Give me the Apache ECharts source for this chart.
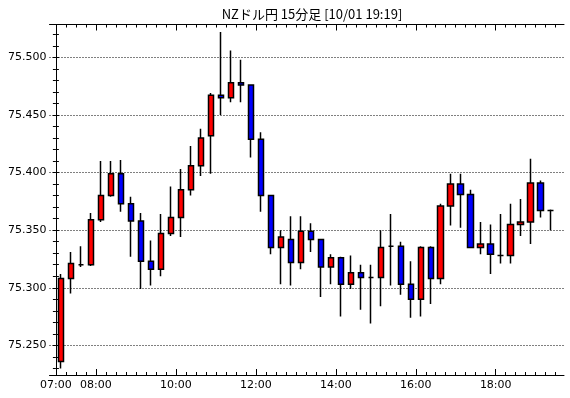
<!DOCTYPE html>
<html>
<head>
<meta charset="utf-8">
<script src="https://cdn.jsdelivr.net/npm/echarts@6/dist/echarts.min.js"></script>
<style>
  html, body { margin: 0; padding: 0; background: #fff; }
  #chart { width: 570px; height: 398px; }
</style>
</head>
<body>
<div id="chart"></div>
<script>
  // 15分足 07:00 - 19:15
  var openVals  = [75.236, 75.308, 75.320, 75.320, 75.359, 75.380, 75.399, 75.373, 75.358, 75.323,
                   75.316, 75.347, 75.361, 75.385, 75.406, 75.432, 75.467, 75.465, 75.478, 75.476,
                   75.429, 75.380, 75.335, 75.342, 75.322, 75.349, 75.342, 75.318, 75.326, 75.303,
                   75.313, 75.309, 75.309, 75.336, 75.336, 75.303, 75.290, 75.335, 75.308, 75.371,
                   75.390, 75.381, 75.335, 75.338, 75.328, 75.328, 75.355, 75.357, 75.391, 75.367];
  var closeVals = [75.308, 75.321, 75.320, 75.359, 75.380, 75.399, 75.373, 75.358, 75.323, 75.316,
                   75.347, 75.361, 75.385, 75.406, 75.430, 75.467, 75.465, 75.478, 75.476, 75.429,
                   75.380, 75.335, 75.344, 75.322, 75.349, 75.342, 75.318, 75.326, 75.303, 75.313,
                   75.309, 75.309, 75.335, 75.336, 75.303, 75.290, 75.335, 75.308, 75.371, 75.390,
                   75.381, 75.335, 75.338, 75.329, 75.328, 75.355, 75.357, 75.391, 75.367, 75.367];
  var lowVals   = [75.230, 75.295, 75.318, 75.319, 75.357, 75.379, 75.366, 75.327, 75.299, 75.302,
                   75.310, 75.345, 75.344, 75.380, 75.397, 75.399, 75.450, 75.461, 75.461, 75.413,
                   75.366, 75.329, 75.303, 75.302, 75.316, 75.331, 75.292, 75.303, 75.275, 75.299,
                   75.281, 75.269, 75.284, 75.302, 75.294, 75.274, 75.275, 75.286, 75.303, 75.354,
                   75.352, 75.335, 75.329, 75.312, 75.321, 75.321, 75.345, 75.338, 75.361, 75.350];
  var highVals  = [75.312, 75.331, 75.336, 75.365, 75.410, 75.410, 75.411, 75.379, 75.365, 75.341,
                   75.364, 75.388, 75.403, 75.423, 75.438, 75.469, 75.522, 75.506, 75.498, 75.476,
                   75.435, 75.380, 75.350, 75.362, 75.362, 75.356, 75.342, 75.329, 75.327, 75.328,
                   75.320, 75.320, 75.350, 75.364, 75.340, 75.323, 75.336, 75.336, 75.373, 75.399,
                   75.399, 75.385, 75.357, 75.355, 75.364, 75.373, 75.377, 75.412, 75.393, 75.368];

  // x軸: 1 = 15分 (0 = 07:00)
  var hourTickPos   = [0, 4, 12, 20, 28, 36, 44];
  var hourLabels    = ['07:00', '08:00', '10:00', '12:00', '14:00', '16:00', '18:00'];
  var longTickPos   = [4, 12, 20, 28, 36, 44];
  var yLabelValues  = [75.25, 75.30, 75.35, 75.40, 75.45, 75.50];

  var xMin = -0.64, xMax = 50.83;
  var yMin = 75.2243, yMax = 75.5285;

  var slotTicks = [];
  for (var s = 0; s <= 50; s++) slotTicks.push(s);
  var yMinorTicks = [];
  for (var t = 7523; t <= 7552; t++) yMinorTicks.push(t / 100);

  var candles = [];
  for (var i = 0; i < openVals.length; i++) {
    candles.push([i + 0.5, openVals[i], closeVals[i], lowVals[i], highVals[i]]);
  }

  var blackLine = { show: true, lineStyle: { color: '#000', width: 1 } };

  function xAxisDef(pos, ticks, len, withLabels) {
    return {
      type: 'value', position: pos, min: xMin, max: xMax,
      axisLine: withLabels !== null ? blackLine : { show: false },
      axisTick: { show: true, inside: true, length: len, customValues: ticks,
                  lineStyle: { color: '#000', width: 1 } },
      axisLabel: withLabels ? {
        show: true, customValues: hourTickPos, margin: 5,
        color: '#000', fontSize: 11, fontFamily: 'DejaVu Sans',
        formatter: function (v) {
          var k = hourTickPos.indexOf(Math.round(v));
          return k >= 0 ? hourLabels[k] : '';
        }
      } : { show: false },
      splitLine: { show: false }
    };
  }

  var chart = echarts.init(document.getElementById('chart'), null, { renderer: 'canvas' });
  chart.setOption({
    animation: false,
    backgroundColor: '#fff',
    title: {
      text: 'NZドル円 15分足 [10/01 19:19]',
      left: 307, top: 3, textAlign: 'center',
      textStyle: { color: '#000', fontSize: 13, fontWeight: 'normal', fontFamily: 'Noto Sans CJK JP' }
    },
    grid: { left: 49.5, right: 6, top: 24.5, bottom: 23 },
    xAxis: [
      xAxisDef('bottom', slotTicks, 3, true),
      xAxisDef('bottom', longTickPos, 6, null),
      xAxisDef('top', slotTicks, 3, false),
      xAxisDef('top', longTickPos, 6, null)
    ],
    yAxis: [
      {
        type: 'value', position: 'left', min: yMin, max: yMax,
        axisLine: blackLine,
        axisTick: { show: true, inside: true, length: 3, customValues: yLabelValues,
                    lineStyle: { color: '#000' } },
        axisLabel: {
          show: true, customValues: yLabelValues, margin: 3,
          color: '#000', fontSize: 11, fontFamily: 'DejaVu Sans',
          formatter: function (v) { return v.toFixed(3); }
        },
        splitLine: { show: true, lineStyle: { color: '#000', type: [1, 2], width: 1 } }
      },
      {
        type: 'value', position: 'left', min: yMin, max: yMax,
        axisLine: { show: false },
        axisTick: { show: true, inside: true, length: 3, customValues: yMinorTicks,
                    lineStyle: { color: '#000' } },
        axisLabel: { show: false },
        splitLine: { show: false }
      },
      {
        type: 'value', position: 'right', min: yMin, max: yMax,
        axisLine: blackLine,
        axisTick: { show: true, inside: true, length: 3, customValues: yMinorTicks,
                    lineStyle: { color: '#000' } },
        axisLabel: { show: false },
        splitLine: { show: false }
      }
    ],
    series: [{
      type: 'candlestick',
      xAxisIndex: 0,
      yAxisIndex: 0,
      barWidth: 6,
      encode: { x: 0, y: [1, 2, 3, 4] },
      data: candles,
      itemStyle: {
        color: '#ff0000',
        color0: '#0000ff',
        borderColor: '#000',
        borderColor0: '#000',
        borderColorDoji: '#000',
        borderWidth: 1.5
      }
    }]
  });
</script>
</body>
</html>
